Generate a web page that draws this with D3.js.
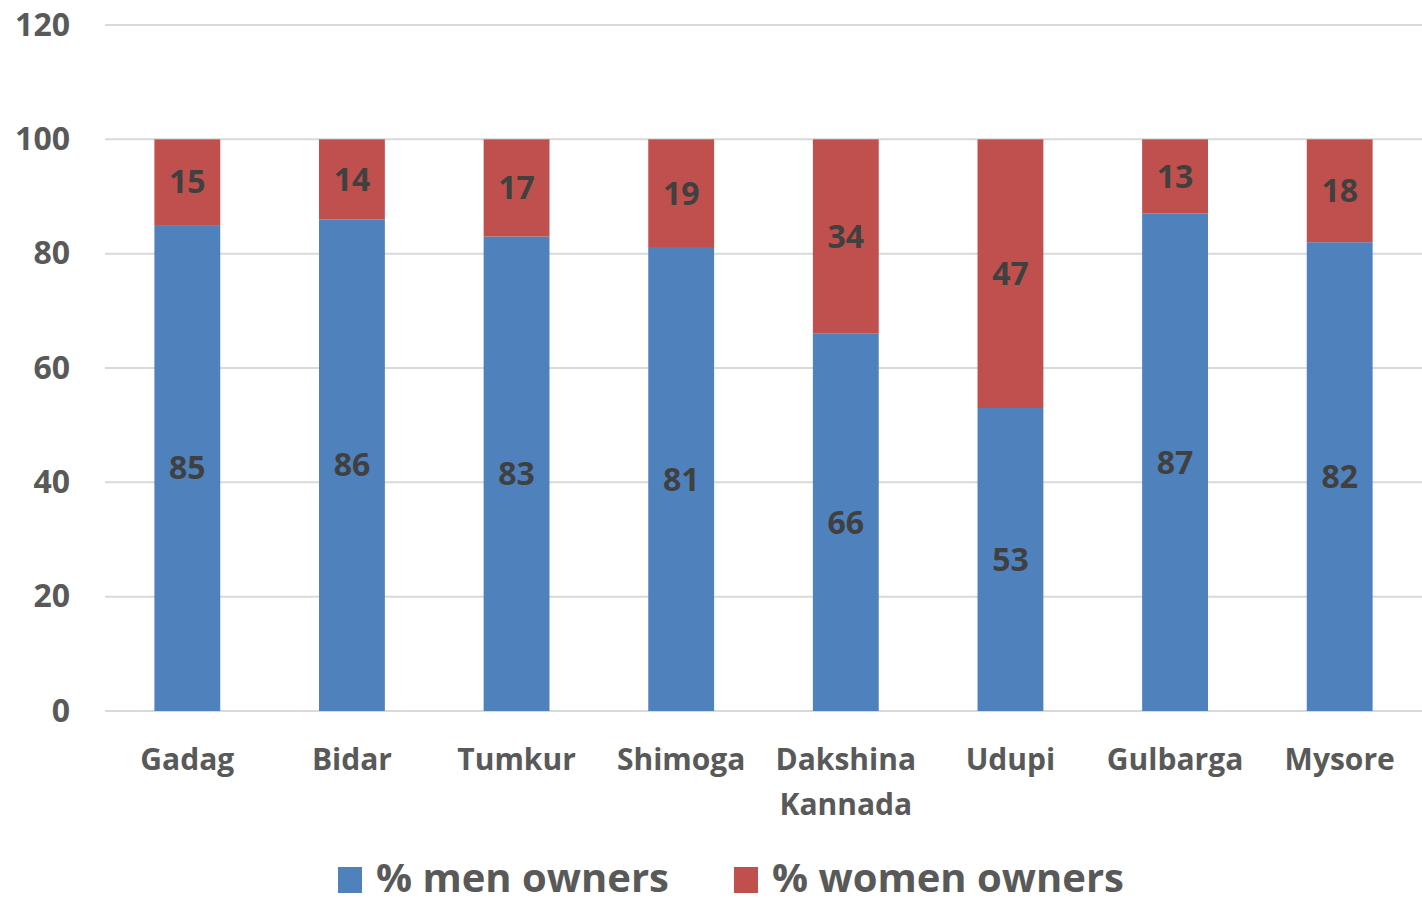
<!DOCTYPE html>
<html>
<head>
    <meta charset="UTF-8">
    <title>owners</title>
    <script src="https://d3js.org/d3.v7.min.js"></script>
    <style>
        body { margin: 0; background: #fff; }
        text { font-family: "Open Sans", sans-serif; font-weight: 700; }
    </style>
</head>
<body>
<svg id="chart"></svg>
<script>
    var districts = ["Gadag", "Bidar", "Tumkur", "Shimoga", "Dakshina Kannada", "Udupi", "Gulbarga", "Mysore"];
    var menOwners = [85, 86, 83, 81, 66, 53, 87, 82];
    var womenOwners = [15, 14, 17, 19, 34, 47, 13, 18];
    var yTicks = [0, 20, 40, 60, 80, 100, 120];
    var seriesNames = ["% men owners", "% women owners"];
    var colors = ["#4f81bd", "#c0504d"];

    var w = 1422, h = 898;
    var plotLeft = 105, plotRight = 1422, plotTop = 25, plotBottom = 711;

    var svg = d3.select("#chart").attr("width", w).attr("height", h);

    var x = d3.scaleBand().domain(districts).range([plotLeft, plotRight]).paddingInner(0.6).paddingOuter(0.3);
    var y = d3.scaleLinear().domain([0, 120]).range([plotBottom, plotTop]);

    // grid
    svg.append("g").selectAll("line").data(yTicks).enter().append("line")
        .attr("x1", plotLeft).attr("x2", plotRight)
        .attr("y1", function (d) { return y(d); }).attr("y2", function (d) { return y(d); })
        .attr("stroke", "#d9d9d9").attr("stroke-width", 2);

    var yAxis = svg.append("g").attr("transform", "translate(" + plotLeft + ",0)")
        .call(d3.axisLeft(y).tickValues(yTicks).tickSize(0).tickPadding(35));
    yAxis.select(".domain").remove();
    yAxis.selectAll("text").attr("font-size", 32).attr("fill", "#595959")
        .attr("font-family", "Open Sans").attr("font-weight", 700);

    var rows = districts.map(function (d, i) {
        return { name: d, men: menOwners[i], women: womenOwners[i] };
    });
    var stack = d3.stack().keys(["men", "women"])(rows);

    var layers = svg.append("g").selectAll("g").data(stack).enter().append("g")
        .attr("fill", function (d, i) { return colors[i]; });

    layers.selectAll("rect").data(function (d) { return d; }).enter().append("rect")
        .attr("x", function (d) { return x(d.data.name); })
        .attr("width", x.bandwidth())
        .attr("y", function (d) { return y(d[1]); })
        .attr("height", function (d) { return y(d[0]) - y(d[1]); });

    layers.selectAll("text").data(function (d) { return d; }).enter().append("text")
        .attr("x", function (d) { return x(d.data.name) + x.bandwidth() / 2; })
        .attr("y", function (d) { return (y(d[0]) + y(d[1])) / 2; })
        .attr("dy", "0.35em")
        .attr("text-anchor", "middle")
        .attr("font-size", 32)
        .attr("fill", "#404040")
        .text(function (d) { return d[1] - d[0]; });

    // x labels
    var xl = svg.append("g").selectAll("text").data(districts).enter().append("text")
        .attr("x", function (d) { return x(d) + x.bandwidth() / 2; })
        .attr("y", 770)
        .attr("text-anchor", "middle")
        .attr("font-size", 30)
        .attr("fill", "#595959");
    xl.each(function (d) {
        var words = d === "Dakshina Kannada" ? ["Dakshina", "Kannada"] : [d];
        var t = d3.select(this);
        words.forEach(function (wd, i) {
            t.append("tspan").attr("x", t.attr("x")).attr("dy", i === 0 ? 0 : 45).text(wd);
        });
    });

    // legend
    var legendX = [338, 734];
    var lg = svg.append("g").selectAll("g").data(seriesNames).enter().append("g")
        .attr("transform", function (d, i) { return "translate(" + legendX[i] + ",867)"; });
    lg.append("rect").attr("width", 24).attr("height", 26)
        .attr("fill", function (d, i) { return colors[i]; });
    lg.append("text").attr("x", 38).attr("y", 25)
        .attr("font-size", 40).attr("fill", "#595959")
        .text(function (d) { return d; });
</script>
</body>
</html>
